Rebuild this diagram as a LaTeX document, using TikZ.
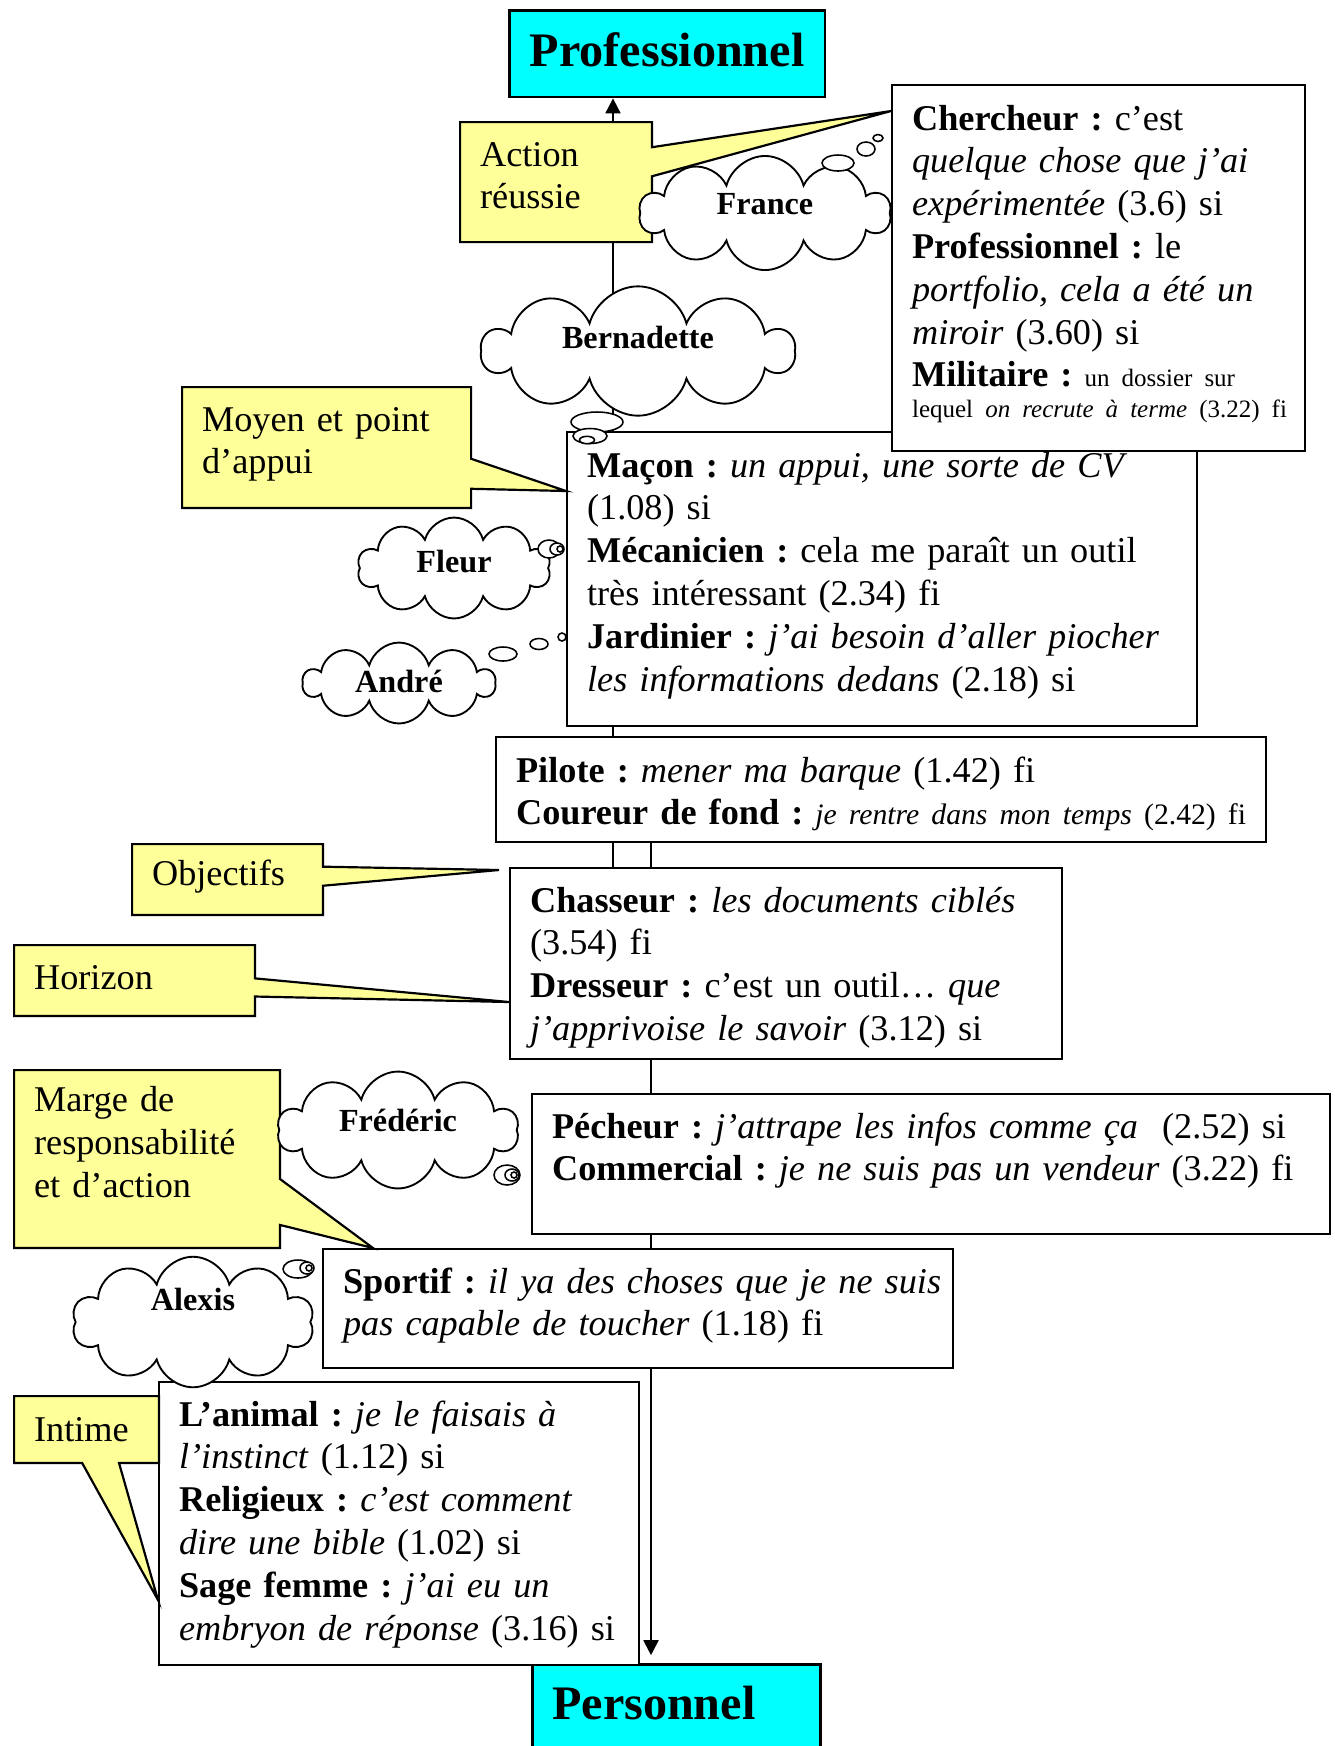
\documentclass[tikz,border=0pt]{standalone}
\usepackage{fontspec}
\setmainfont{Liberation Serif}
\usetikzlibrary{arrows.meta, shapes.symbols, shapes.callouts, backgrounds}

\definecolor{poleblue}{RGB}{0,255,255}
\definecolor{noteyellow}{RGB}{255,255,153}
\newcommand{\quotefont}{\fontsize{11.6}{13.7}\selectfont}
\newcommand{\smallq}{\fontsize{8}{10}\selectfont}
\newcommand{\smallp}{\fontsize{9.5}{11}\selectfont}
\frenchspacing

\tikzset{
  polebox/.style={draw, line width=0.8pt, fill=poleblue, anchor=north west,
    inner ysep=0pt, font=\bfseries\fontsize{15.4}{18}\selectfont},
  quotebox/.style={draw, line width=0.7pt, fill=white, anchor=north west,
    inner xsep=0pt, inner ysep=0pt, align=left, font=\quotefont,
    execute at begin node={\leftskip=6.4pt}},
  notebox/.style={rectangle callout, draw, line width=0.7pt, fill=noteyellow,
    anchor=north west, inner xsep=6.4pt, inner ysep=0pt, align=left, font=\quotefont},
  thinker/.style={cloud, draw, line width=0.6pt, fill=white, cloud puffs=10,
    cloud ignores aspect, inner sep=1pt, font=\bfseries\fontsize{10.3}{12}\selectfont},
  bubble/.style={draw, line width=0.5pt, fill=white},
  axisline/.style={line width=0.6pt, -{Triangle[width=4.8pt,length=4.8pt]}}
}

\begin{document}
\begin{tikzpicture}[x=0.32pt, y=-0.32pt]
  \useasboundingbox (0,0) rectangle (1335,1746);
  \clip (0,0) rectangle (1335,1746);

  % The two poles
  \node[polebox, text width=101.1pt, inner xsep=0pt, align=center,
        text height=17.9pt, text depth=9.9pt] (prof) at (508,9) {Professionnel};
  \node[polebox, text width=79.4pt, inner xsep=6.4pt, align=left,
        text height=17.6pt, text depth=19.2pt] (perso) at (531,1663) {Personnel};

  % Quotes, from the professional pole down to the personal one
  \node[quotebox, text width=201.6pt, text height=14.4pt, text depth=79.7pt] (macon) at (566,431)
    {\textbf{Maçon :} \textit{un appui, une sorte de CV}\\
     (1.08) si\\
     \textbf{Mécanicien :} cela me paraît un outil\\
     très intéressant (2.34) fi\\
     \textbf{Jardinier :} \textit{j’ai besoin d’aller piocher}\\
     \textit{les informations dedans} (2.18) si};
  \node[quotebox, text width=132.2pt, text height=14.4pt, text depth=102.7pt] (chercheur) at (891,84)
    {\textbf{Chercheur :} c’est\\
     \textit{quelque chose que j’ai}\\
     \textit{expérimentée} (3.6) si\\
     \textbf{Professionnel :} le\\
     \textit{portfolio, cela a été un}\\
     \textit{miroir} (3.60) si\\
     \textbf{Militaire :} {\smallq un dossier sur}\\[-3.8pt]
     {\smallq lequel \textit{on recrute à terme} (3.22) fi}};
  \node[quotebox, text width=246.4pt, text height=14.4pt, text depth=19.2pt] (pilote) at (495,736)
    {\textbf{Pilote :} \textit{mener ma barque} (1.42) fi\\
     \textbf{Coureur de fond :} {\smallp\textit{je rentre dans mon temps} (2.42) fi}};
  \node[quotebox, text width=176.6pt, text height=14.1pt, text depth=47pt] (chasseur) at (509,867)
    {\textbf{Chasseur :} \textit{les documents ciblés}\\
     (3.54) fi\\
     \textbf{Dresseur :} c’est un outil… \textit{que}\\
     \textit{j’apprivoise le savoir} (3.12) si};
  \node[quotebox, text width=255.4pt, text height=14.1pt, text depth=30.7pt] (pecheur) at (531,1093)
    {\textbf{Pécheur :} \textit{j’attrape les infos comme ça}~ (2.52) si\\
     \textbf{Commercial :} \textit{je ne suis pas un vendeur} (3.22) fi};
  \node[quotebox, text width=201.6pt, text height=14.1pt, text depth=24pt] (sportif) at (322,1248)
    {\textbf{Sportif :} \textit{il ya des choses que je ne suis}\\
     \textit{pas capable de toucher} (1.18) fi};
  \node[quotebox, text width=153.6pt, text height=14.1pt, text depth=76.5pt] (animal) at (158,1381)
    {\textbf{L’animal :} \textit{je le faisais à}\\
     \textit{l’instinct} (1.12) si\\
     \textbf{Religieux :} \textit{c’est comment}\\
     \textit{dire une bible} (1.02) si\\
     \textbf{Sage femme :} \textit{j’ai eu un}\\
     \textit{embryon de réponse} (3.16) si};

  % Yellow notes
  \node[notebox, text width=48.6pt, text height=14.1pt, text depth=24.3pt, callout pointer width=9.3pt,
        callout absolute pointer={(chercheur.west |- 0,111)}] (action) at (459,121) {Action\\réussie};
  \node[notebox, text width=79.7pt, text height=14.1pt, text depth=24.6pt, callout pointer width=9.6pt,
        callout absolute pointer={(macon.west |- 0,491)}] (moyen) at (181,386) {Moyen et point\\d’appui};
  \node[notebox, text width=48.3pt, text height=13.4pt, text depth=9.3pt, callout pointer width=6.1pt,
        callout absolute pointer={(499,870)}] (objectifs) at (131,843) {Objectifs};
  \node[notebox, text width=64.3pt, text height=14.1pt, text depth=8.6pt, callout pointer width=5.8pt,
        callout absolute pointer={(chasseur.west |- 0,1002)}] (horizon) at (13,944) {Horizon};
  \node[notebox, text width=72.3pt, text height=13.4pt, text depth=43.5pt, callout pointer width=14.7pt,
        callout absolute pointer={(373,0 |- sportif.north)}] (marge) at (13,1069)
    {Marge de\\responsabilité\\et d’action};
  \node[notebox, text width=33.6pt, text height=14.4pt, text depth=7pt, callout pointer width=11.8pt,
        callout absolute pointer={(animal.west |- 0,1600)}] (intime) at (13,1395) {Intime};

  % Thinkers
  \node[thinker, minimum width=80.3pt, minimum height=36.5pt, text depth=5.8pt] (france) at (765,213) {France};
  \draw[bubble] (838,163) ellipse [x radius=16, y radius=8];
  \draw[bubble] (866,149) ellipse [x radius=9, y radius=7];
  \draw[bubble] (878,138) ellipse [x radius=5, y radius=3.5];

  \node[thinker, minimum width=99.8pt, minimum height=37.8pt, text depth=9pt] (bernadette) at (638,351) {Bernadette};
  \draw[bubble] (597,422) ellipse [x radius=26, y radius=10];
  \draw[bubble] (590,436) ellipse [x radius=17, y radius=7.5];
  \draw[bubble] (587,440) ellipse [x radius=7.5, y radius=3.7];

  \node[thinker, minimum width=61.8pt, minimum height=32.3pt, text depth=4.5pt] (fleur) at (454,568) {Fleur};
  \draw[bubble] (549,549) ellipse [x radius=11, y radius=9];
  \draw[bubble] (557,549) ellipse [x radius=7, y radius=6];
  \draw[bubble] (560,549) ellipse [x radius=3, y radius=3];

  \node[thinker, minimum width=61.4pt, minimum height=25.9pt, text depth=1.3pt] (andre) at (399,683) {André};
  \draw[bubble] (503,654) ellipse [x radius=14, y radius=7];
  \draw[bubble] (539,644) ellipse [x radius=9, y radius=5.5];
  \draw[bubble] (562,637) ellipse [x radius=4, y radius=4];

  \node[thinker, minimum width=77.1pt, minimum height=37.4pt, text depth=6.4pt] (frederic) at (398,1130) {Frédéric};
  \draw[bubble] (507,1175) ellipse [x radius=13, y radius=10];
  \draw[bubble] (512,1175) ellipse [x radius=7, y radius=6];
  \draw[bubble] (514,1175) ellipse [x radius=3, y radius=3];

  \node[thinker, minimum width=77.4pt, minimum height=37.4pt, text depth=14.7pt] (alexis) at (193,1322) {Alexis};
  \draw[bubble] (298,1269) ellipse [x radius=15, y radius=9];
  \draw[bubble] (307,1268) ellipse [x radius=7, y radius=6];
  \draw[bubble] (309,1268) ellipse [x radius=3, y radius=3];

  % Axis between the two poles
  \begin{pgfonlayer}{background}
    \draw[axisline] (chasseur.north -| 613,0) -- (prof.south -| 613,0);
    \draw[axisline, shorten >=2.5pt] (pilote.south -| 651,0) -- (perso.north -| 651,0);
  \end{pgfonlayer}
\end{tikzpicture}
\end{document}
